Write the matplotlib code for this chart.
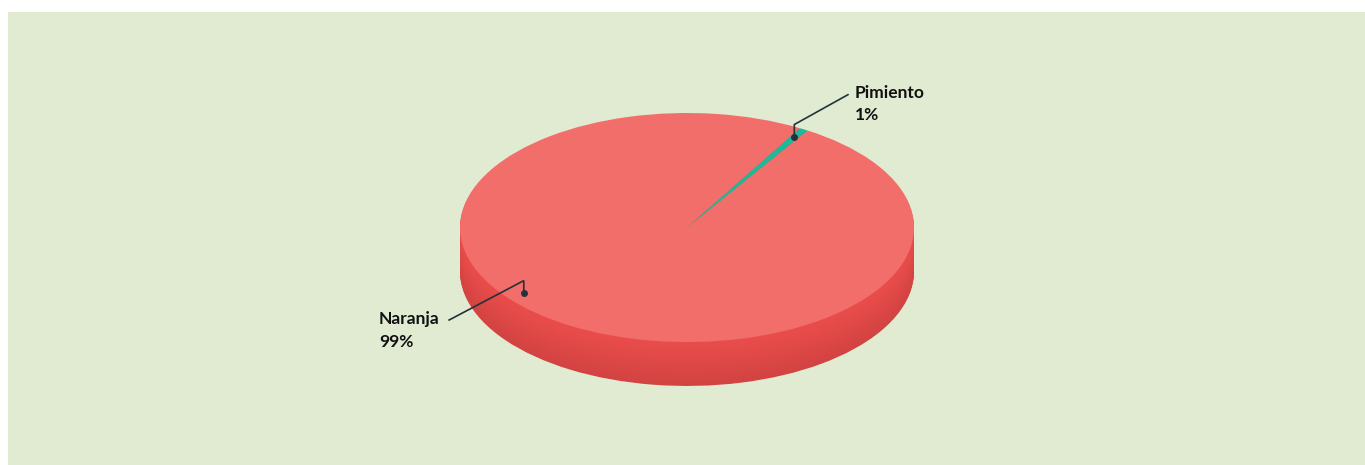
import matplotlib.pyplot as plt
import numpy as np
from matplotlib.patches import Rectangle
from matplotlib.colors import to_rgb

# Data
categories = ['Naranja', 'Pimiento']
shares = [99.4, 0.6]
top_colors = ['#F26E6B', '#1DB999']
side_top = ['#EA4D4B', '#179A80']
side_bottom = ['#D24341', '#137F69']

W, H = 1365, 465
fig = plt.figure(figsize=(W / 100, H / 100), dpi=100)
fig.patch.set_facecolor('white')
bg = Rectangle((8 / W, 0), 1 - 8 / W, (H - 12) / H,
               transform=fig.transFigure, facecolor='#E1EBD2',
               edgecolor='none', zorder=-10)
fig.add_artist(bg)

ax = fig.add_axes([0, 0, 1, 1])
ax.set_facecolor('none')
ax.set_zorder(5)

start = 58
depth = 0.384
n_layers = 45

# side of the 3d pie: stack of shifted pies, dark at the bottom
for k in range(n_layers, 0, -1):
    t = k / n_layers
    cols = [tuple(np.array(to_rgb(a)) * (1 - t) + np.array(to_rgb(b)) * t)
            for a, b in zip(side_top, side_bottom)]
    ax.pie(shares, colors=cols, startangle=start, counterclock=False,
           center=(0, -depth * t), radius=1,
           wedgeprops=dict(linewidth=0, antialiased=True))

# top face
wedges, _ = ax.pie(shares, colors=top_colors, startangle=start,
                   counterclock=False, radius=1,
                   wedgeprops=dict(linewidth=0))

# flatten the pie into an ellipse: 1 unit = 227 px across, 114.5 px down
ax.set_aspect('auto')
ax.set_xlim(-687 / 227, (W - 687) / 227)
ax.set_ylim(-(H - 227.5) / 114.5, 227.5 / 114.5)
ax.axis('off')

# labels with leader lines
pct = [f"{round(v / sum(shares) * 100):d}%" for v in shares]
anchor_angles = [218.6, (wedges[1].theta1 + wedges[1].theta2) / 2]
line_ends = [(-1.048, -0.808), (0.709, 1.16)]
text_pos = [(-1.357, -0.90), (0.738, 1.08)]
for name, p, ang, le, tp in zip(categories, pct, anchor_angles, line_ends, text_pos):
    r = 0.92
    ax0 = r * np.cos(np.radians(ang))
    ay0 = r * np.sin(np.radians(ang))
    elbow = (ax0, ay0 + 0.11)
    ax.plot([ax0, elbow[0], le[0]], [ay0, elbow[1], le[1]], color='#22333B', lw=1.2,
            solid_joinstyle='miter')
    ax.plot([ax0], [ay0], 'o', color='#22333B', ms=4)
    ax.text(tp[0], tp[1], f"{name}\n{p}", ha='left', va='center',
            fontsize=12.5, fontweight='bold', family='Lato', color='#111111',
            linespacing=1.5)

fig.savefig('out.png', dpi=100, facecolor=fig.get_facecolor())
